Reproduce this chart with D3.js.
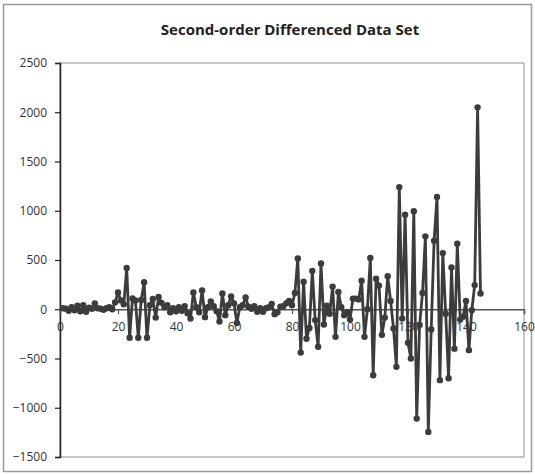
<!DOCTYPE html>
<html>
<head>
<meta charset="utf-8">
<script src="https://cdn.jsdelivr.net/npm/d3@7"></script>
<style>
  html, body { margin: 0; padding: 0; background: #fff; }
  svg { display: block; }
</style>
</head>
<body>
<svg id="chart" width="535" height="475"></svg>
<script>
const title = "Second-order Differenced Data Set";
const xTicks = [0, 20, 40, 60, 80, 100, 120, 140, 160];
const yTicks = [-1500, -1000, -500, 0, 500, 1000, 1500, 2000, 2500];
const values = [
  10, 5, -15, 20, -10, 35, -20, 40, -25, 15,
  5, 60, 10, 5, -5, 10, 20, 0, 70, 170,
  90, 50, 420, -290, 110, 90, -290, 95, 275, -290,
  40, 105, -85, 125, 65, 20, 40, -30, 10, -20,
  20, -15, 30, -40, -95, 170, 20, -30, 190, -80,
  20, 80, 30, -20, -125, 160, -60, 40, 130, 60,
  -140, 20, 40, 120, 25, 5, 30, -25, 10, -25,
  10, 20, 55, -50, -30, 25, 30, 60, 85, 40,
  165, 515, -440, 280, -300, -190, 390, -110, -380, 465,
  -155, 35, -45, 230, -280, 175, 20, -60, -30, -105,
  108, 108, 100, 290, -280, 0, 520, -670, 310, 240,
  -260, -85, 335, 85, -195, -585, 1240, -95, 960, -340,
  -500, 995, -1110, -160, 165, 740, -1245, -205, 695, 1140,
  -720, 570, -45, -700, 425, -400, 665, -105, -75, 85,
  -415, -10, 245, 2050, 160
];
const points = values.map((v, i) => ({ x: i + 1, y: v }));

const svg = d3.select("#chart");
const W = 535, H = 475;
const plot = { left: 60, right: 524, top: 63, bottom: 457 };
const font = "'Open Sans', 'Liberation Sans', sans-serif";
const ink = "#3c3c3c";

// outer frame
svg.append("rect")
  .attr("x", 3.5).attr("y", 4.5).attr("width", W - 7).attr("height", H - 8)
  .attr("fill", "#fff").attr("stroke", "#9a9a9a").attr("stroke-width", 1.5);

const x = d3.scaleLinear().domain([0, 160]).range([plot.left, plot.right]);
const y = d3.scaleLinear().domain([-1500, 2500]).range([plot.bottom, plot.top]);

// plot area border
svg.append("rect")
  .attr("x", plot.left).attr("y", plot.top)
  .attr("width", plot.right - plot.left).attr("height", plot.bottom - plot.top)
  .attr("fill", "none").attr("stroke", "#8c8c8c").attr("stroke-width", 1);

// title
svg.append("text")
  .attr("x", 290).attr("y", 35)
  .attr("text-anchor", "middle")
  .attr("font-family", font).attr("font-weight", "bold").attr("font-size", 15)
  .attr("fill", "#222")
  .text(title);

// y axis
const yAxis = svg.append("g")
  .attr("transform", `translate(${plot.left},0)`)
  .call(d3.axisLeft(y).tickValues(yTicks).tickSize(5).tickPadding(8).tickFormat(d3.format("d")));
yAxis.select(".domain").attr("stroke", "#222").attr("stroke-width", 1.5);
yAxis.selectAll(".tick line").attr("stroke", "#222").attr("stroke-width", 1.2);
yAxis.selectAll("text").attr("font-family", font).attr("font-size", 12).attr("fill", "#333");

// x axis at zero
const xAxis = svg.append("g")
  .attr("transform", `translate(0,${y(0)})`)
  .call(d3.axisBottom(x).tickValues(xTicks).tickSize(5).tickPadding(8));
xAxis.select(".domain").attr("stroke", "#555").attr("stroke-width", 1.5);
xAxis.selectAll(".tick line").attr("stroke", "#555").attr("stroke-width", 1.2);
xAxis.selectAll("text").attr("font-family", font).attr("font-size", 12).attr("fill", "#333");

// series line
const line = d3.line().x(d => x(d.x)).y(d => y(d.y));
svg.append("path")
  .datum(points)
  .attr("d", line)
  .attr("fill", "none")
  .attr("stroke", ink)
  .attr("stroke-width", 2.8)
  .attr("stroke-linejoin", "round");

// markers
svg.append("g").selectAll("circle")
  .data(points)
  .join("circle")
  .attr("cx", d => x(d.x))
  .attr("cy", d => y(d.y))
  .attr("r", 3.2)
  .attr("fill", ink);
</script>
</body>
</html>
